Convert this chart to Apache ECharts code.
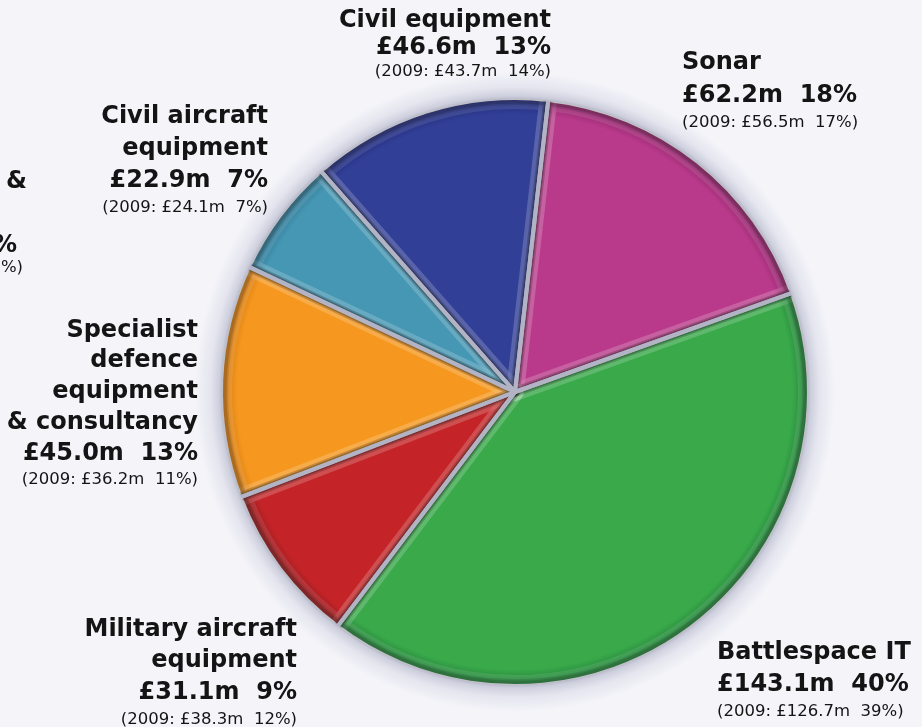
<!DOCTYPE html>
<html>
<head>
<meta charset="utf-8">
<script src="https://cdn.jsdelivr.net/npm/echarts@6/dist/echarts.min.js"></script>
<style>
  html, body { margin: 0; padding: 0; background: #f4f4f9; }
  #chart { width: 922px; height: 727px; }
</style>
</head>
<body>
<div id="chart"></div>
<script>
// Revenue by business segment, clockwise from the top
const segments = [
  'Sonar',
  'Battlespace IT',
  'Military aircraft\nequipment',
  'Specialist\ndefence\nequipment\n& consultancy',
  'Civil aircraft\nequipment',
  'Civil equipment'
];
const revenue2010 = [62.2, 143.1, 31.1, 45.0, 22.9, 46.6];   // £m
const share2010   = [18, 40, 9, 13, 7, 13];                  // %
const revenue2009 = [56.5, 126.7, 38.3, 36.2, 24.1, 43.7];   // £m
const share2009   = [17, 39, 12, 11, 7, 14];                 // %

const fillColors = ['#b93a8b', '#39a94a', '#c42428', '#f6981f', '#4597b3', '#313f97'];
const rimColors  = ['#8e2468', '#23803a', '#921a1d', '#d07812', '#2f7592', '#222c78'];

// label anchor per segment: x, top y, alignment, line height of the large lines
const labelAnchors = [
  { x: 682, y: 46,  align: 'left',  lh: 33 },
  { x: 717, y: 637, align: 'left',  lh: 32 },
  { x: 297, y: 614, align: 'right', lh: 31.5 },
  { x: 198, y: 315, align: 'right', lh: 30.8 },
  { x: 268, y: 101, align: 'right', lh: 32 },
  { x: 551, y: 7,   align: 'right', lh: 27 }
];

const CX = 515, CY = 392, R = 292;
const START = 83.5;
const FONT = '"DejaVu Sans", "Noto Sans", sans-serif';
const GAP = '#b2b4c6';

const total = revenue2010.reduce((a, b) => a + b, 0);

const chart = echarts.init(document.getElementById('chart'), null, { renderer: 'canvas' });

const mainData = segments.map((name, i) => ({
  name,
  value: revenue2010[i],
  itemStyle: {
    color: {
      type: 'radial', x: CX, y: CY, r: R, global: true,
      colorStops: [
        { offset: 0, color: fillColors[i] },
        { offset: 0.95, color: fillColors[i] },
        { offset: 1, color: rimColors[i] }
      ]
    }
  },
  label: {
    align: labelAnchors[i].align,
    rich: {
      n: { fontFamily: FONT, fontSize: 24, fontWeight: 'bold', color: '#141414', lineHeight: labelAnchors[i].lh, align: labelAnchors[i].align },
      v: { fontFamily: FONT, fontSize: 24, fontWeight: 'bold', color: '#141414', lineHeight: labelAnchors[i].lh, align: labelAnchors[i].align },
      s: { fontFamily: FONT, fontSize: 16.5, fontWeight: 'normal', color: '#141414', lineHeight: 22, align: labelAnchors[i].align }
    }
  }
}));

function edgeLayer(width, color, radius) {
  return {
    type: 'pie',
    center: [CX, CY],
    radius: radius || R,
    startAngle: START,
    clockwise: true,
    silent: true,
    animation: false,
    label: { show: false },
    labelLine: { show: false },
    emphasis: { disabled: true },
    itemStyle: { color: 'rgba(0,0,0,0)', borderColor: color, borderWidth: width },
    data: revenue2010.map(v => ({ value: v }))
  };
}

const ringIn = R + 1, ringOut = R + 28;

const option = {
  backgroundColor: '#f4f4f9',
  animation: false,
  graphic: [
    // edge of the neighbouring panel's label, cut by the page border
    { type: 'text', x: 27, y: 182, style: { text: '&', font: 'bold 24px ' + FONT, fill: '#141414', align: 'right', verticalAlign: 'middle' } },
    { type: 'text', x: 17, y: 246, style: { text: '%', font: 'bold 24px ' + FONT, fill: '#141414', align: 'right', verticalAlign: 'middle' } },
    { type: 'text', x: 23, y: 268, style: { text: '9%)', font: '16.5px ' + FONT, fill: '#141414', align: 'right', verticalAlign: 'middle' } }
  ],
  series: [
    {
      type: 'pie',
      center: [CX, CY],
      radius: R,
      startAngle: START,
      clockwise: true,
      animation: false,
      avoidLabelOverlap: false,
      emphasis: { disabled: true },
      labelLine: { show: false },
      label: {
        show: true,
        position: 'outside',
        formatter: (p) => {
          const i = p.dataIndex;
          const nameLines = segments[i].split('\n').map(t => '{n|' + t + '}').join('\n');
          return nameLines +
            '\n{v|£' + revenue2010[i].toFixed(1) + 'm  ' + share2010[i] + '%}' +
            '\n{s|(2009: £' + revenue2009[i].toFixed(1) + 'm  ' + share2009[i] + '%)}';
        }
      },
      labelLayout: (p) => {
        const a = labelAnchors[p.dataIndex];
        return { x: a.x, y: a.y, align: a.align, verticalAlign: 'top' };
      },
      data: mainData
    },
    // embossed edges of each slice
    edgeLayer(18, 'rgba(255,255,255,0.10)'),
    edgeLayer(10, 'rgba(0,0,0,0.10)'),
    edgeLayer(7, 'rgba(0,0,0,0.12)'),
    // grey gaps between the slices
    edgeLayer(4, GAP, R + 12),
    // soft haze around the rim
    {
      type: 'pie',
      center: [CX, CY],
      radius: [ringIn, ringOut],
      silent: true,
      animation: false,
      label: { show: false },
      labelLine: { show: false },
      emphasis: { disabled: true },
      itemStyle: {
        color: {
          type: 'radial', x: CX, y: CY, r: ringOut, global: true,
          colorStops: [
            { offset: 0, color: '#b9bbcc' },
            { offset: ringIn / ringOut, color: '#b9bbcc' },
            { offset: (ringIn + 3) / ringOut, color: '#cdcfdd' },
            { offset: (ringIn + 12) / ringOut, color: '#e4e5ee' },
            { offset: 1, color: '#f4f4f9' }
          ]
        }
      },
      data: [{ value: total }]
    }
  ]
};

chart.setOption(option);
</script>
</body>
</html>
